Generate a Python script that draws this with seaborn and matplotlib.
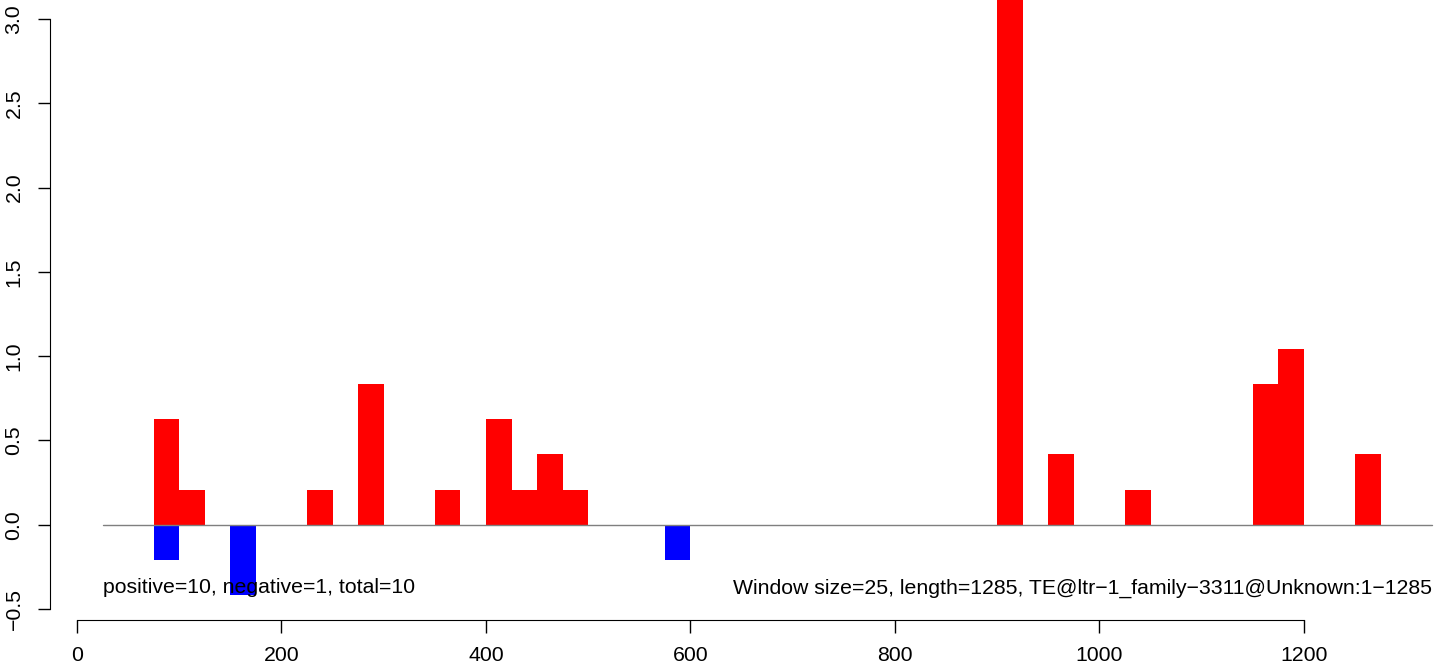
import pandas as pd
import matplotlib.pyplot as plt
import seaborn as sns

# window start positions (window size 25) and signal per window
pos_starts = [75, 100, 225, 275, 350, 400, 425, 450, 475, 900, 950, 1025, 1150, 1175, 1250]
pos_values = [0.625, 0.208, 0.208, 0.833, 0.208, 0.625, 0.208, 0.417, 0.208, 3.958, 0.417, 0.208, 0.833, 1.042, 0.417]
neg_starts = [75, 150, 575]
neg_values = [-0.208, -0.417, -0.208]

window = 25
left_note = "positive=10, negative=1, total=10"
right_note = "Window size=25, length=1285, TE@ltr\u22121_family\u22123311@Unknown:1\u22121285"

df = pd.DataFrame({
    "center": [s + window / 2 for s in pos_starts + neg_starts],
    "value": pos_values + neg_values,
    "sign": ["pos"] * len(pos_starts) + ["neg"] * len(neg_starts),
})

sns.set_style("ticks", {"axes.edgecolor": "black", "text.color": "black",
                        "xtick.color": "black", "ytick.color": "black"})
plt.rcParams["font.family"] = ["Liberation Sans", "DejaVu Sans"]
fs = 15.3

fig = plt.figure(figsize=(14.44, 6.70), dpi=100)
ax = fig.add_axes([50 / 1444, 50 / 670, 1 - 50 / 1444, 1 - 50 / 670])

sns.barplot(data=df, x="center", y="value", hue="sign",
            palette={"pos": "red", "neg": "blue"}, native_scale=True,
            dodge=False, width=1, saturation=1, linewidth=0,
            legend=False, ax=ax)

ax.plot([25, 1325], [0, 0], color="#7f7f7f", lw=1, zorder=3)

ax.text(25, -0.375, left_note, ha="left", va="center", fontsize=fs, color="black")
ax.text(1325, -0.375, right_note, ha="right", va="center", fontsize=fs, color="black")

for side in ["top", "right"]:
    ax.spines[side].set_visible(False)
ax.spines["left"].set_bounds(-0.5, 3.0)
ax.spines["bottom"].set_bounds(0, 1200)

ax.set_xlim(-26.4, 1337)
ax.set_ylim(-0.565, 3.112)
ax.set_xticks(range(0, 1201, 200))
ax.set_yticks([-0.5, 0.0, 0.5, 1.0, 1.5, 2.0, 2.5, 3.0])
ax.set_xticklabels([str(v) for v in range(0, 1201, 200)], fontsize=fs)
ax.set_yticklabels(["\u22120.5", "0.0", "0.5", "1.0", "1.5", "2.0", "2.5", "3.0"],
                   fontsize=fs, rotation=90, va="center")
ax.set_xlabel("")
ax.set_ylabel("")
ax.tick_params(axis="both", length=9, width=1, color="black", labelcolor="black")
ax.tick_params(axis="x", pad=10)
ax.tick_params(axis="y", pad=10)

fig.savefig("out.png", dpi=100)
